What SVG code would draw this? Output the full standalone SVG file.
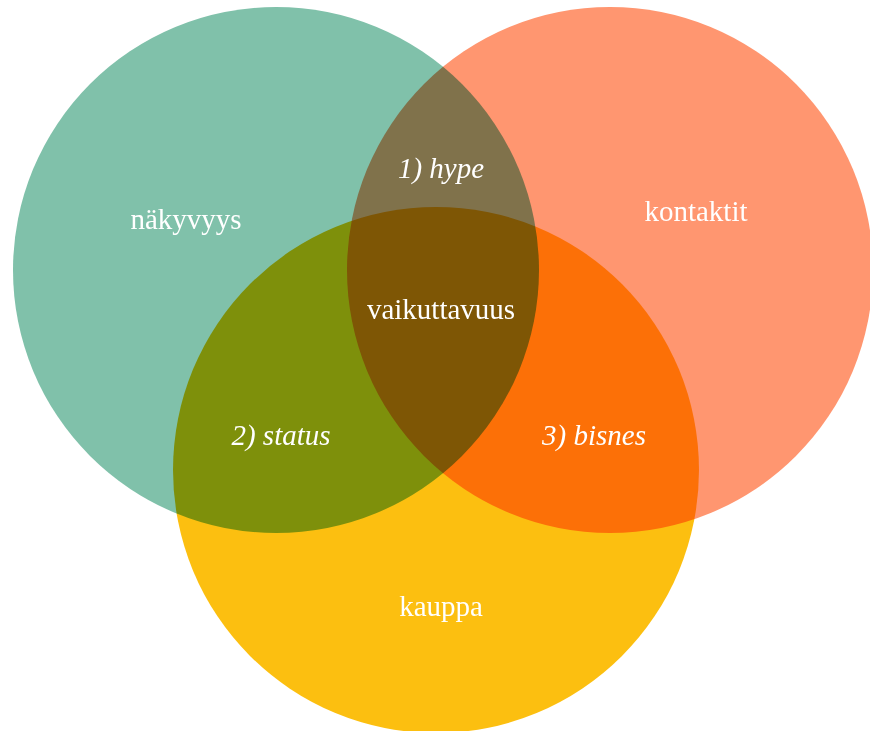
<svg xmlns="http://www.w3.org/2000/svg" width="870" height="731" viewBox="0 0 870 731">
<style>
.c{mix-blend-mode:multiply}
text{font-family:"Liberation Serif","Times New Roman",serif;font-size:29px;fill:#ffffff;text-anchor:middle}
.i{font-style:italic}
</style>
<rect width="870" height="731" fill="#ffffff"/>
<g style="isolation:isolate">
<g id="nakyvyys"><circle class="c" cx="276" cy="270" r="263" fill="#80c1aa"/></g>
<g id="kontaktit"><circle class="c" cx="610" cy="270" r="263" fill="#ff9670"/></g>
<g id="kauppa"><circle class="c" cx="436" cy="470" r="263" fill="#fcbf10"/></g>
</g>
<g id="labels">
<text x="186" y="229">näkyvyys</text>
<text x="696" y="221">kontaktit</text>
<text x="441" y="616">kauppa</text>
<text x="441" y="319">vaikuttavuus</text>
<text class="i" x="441" y="178">1) hype</text>
<text class="i" x="281" y="445">2) status</text>
<text class="i" x="594" y="445">3) bisnes</text>
</g>
</svg>
